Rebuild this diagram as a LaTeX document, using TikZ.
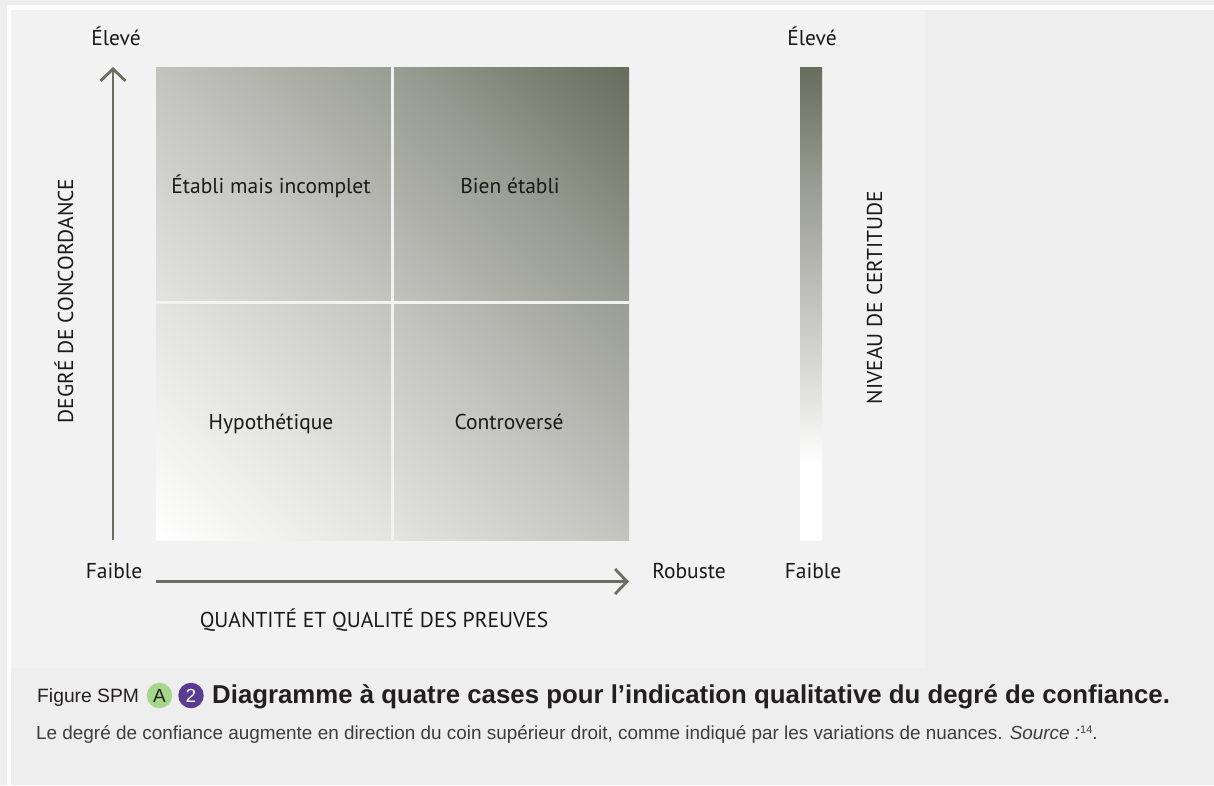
\documentclass[tikz,border=0pt]{standalone}
\usepackage{fontspec}
\setmainfont{PT Sans}
\newfontfamily\capfont{Liberation Sans}
\usetikzlibrary{arrows.meta}
\definecolor{outerbg}{HTML}{EEEEEE}
\definecolor{panelbg}{HTML}{F2F2F2}
\definecolor{axiscol}{HTML}{6B6E61}
\definecolor{g25}{HTML}{E3E4E0}
\definecolor{g50}{HTML}{C2C3BD}
\definecolor{g75}{HTML}{9A9D93}
\definecolor{g100}{HTML}{676C5D}
\definecolor{greenA}{HTML}{A6D58B}
\definecolor{purpleB}{HTML}{5B3B8F}
\definecolor{txt}{HTML}{1A1A1A}
\definecolor{captxt}{HTML}{231F20}
\definecolor{subtxt}{HTML}{3D3D3D}
\pgfdeclarehorizontalshading{matgrad}{100bp}{color(0bp)=(white); color(14.6bp)=(white); color(32.3bp)=(g25); color(50bp)=(g50); color(67.7bp)=(g75); color(85.4bp)=(g100); color(100bp)=(g100)}
\pgfdeclareverticalshading{bargrad}{100bp}{color(0bp)=(white); color(25bp)=(white); color(33bp)=(white); color(40bp)=(g25); color(50bp)=(g50); color(62.5bp)=(g75); color(75bp)=(g100); color(100bp)=(g100)}
\begin{document}
\begin{tikzpicture}[x=1pt,y=-1pt,
  lbl/.style={font=\fontsize{21.5}{25}\selectfont, text=txt, inner sep=0pt, anchor=base},
  axisarrow/.style={draw=axiscol, line width=2.8pt, -{Straight Barb[length=12pt,width=25pt,line width=2.8pt]}},
  badge/.style={circle, inner sep=0pt, minimum size=25.5pt, font=\capfont\fontsize{19}{22}\selectfont},
  divider/.style={draw=panelbg, line width=3pt}
]
\useasboundingbox (0,0) rectangle (1214,785);
% backgrounds
\fill[outerbg] (0,0) rectangle (1214,785);
\fill[white] (7,5) rectangle (1214,785);
\fill[outerbg] (11,10) rectangle (1214,785);
\fill[panelbg] (11,10) rectangle (925,668);
% matrix
\shade[shading=matgrad, shading angle=45] (156,67) rectangle (629,540);
\coordinate (dvt) at (392.5,67);
\coordinate (dvb) at (392.5,540);
\coordinate (dhl) at (156,302.5);
\coordinate (dhr) at (629,302.5);
\draw[divider] (dvt) -- (dvb);
\draw[divider] (dhl) -- (dhr);
% certainty bar
\shade[shading=bargrad] (800,67) rectangle (822,540);
% axes
\coordinate (vbot) at (113,540);
\coordinate (vtop) at (113,67);
\coordinate (hleft) at (156,581.5);
\coordinate (hright) at (629,581.5);
\draw[axisarrow] (vbot) -- (vtop);
\draw[axisarrow] (hleft) -- (hright);
% labels
\node[lbl] (hiL) at (116,45) {Élevé};
\node[lbl] (hiR) at (812,45) {Élevé};
\node[lbl] (loL) at (114,578) {Faible};
\node[lbl] (rob) at (689,578) {Robuste};
\node[lbl] (loR) at (813,578) {Faible};
\node[lbl] (xlab) at (374,627) {QUANTITÉ ET QUALITÉ DES PREUVES};
\node[lbl, rotate=90] (ylab) at (73,301) {DEGRÉ DE CONCORDANCE};
\node[lbl, rotate=90] (clab) at (882,297.5) {NIVEAU DE CERTITUDE};
\node[lbl] (c1) at (271,193) {Établi mais incomplet};
\node[lbl] (c2) at (510,193) {Bien établi};
\node[lbl] (c3) at (271,429) {Hypothétique};
\node[lbl] (c4) at (509,429) {Controversé};
% caption
\node[anchor=base west, inner sep=0pt, text=captxt, font=\capfont\fontsize{19.3}{23}\selectfont] (fig) at (37,702) {Figure SPM};
\node[badge, fill=greenA, text=captxt] (bA) at (159.5,695.5) {A};
\node[badge, fill=purpleB, text=white] (b2) at (191,695.5) {2};
\node[anchor=base west, inner sep=0pt, text=captxt, font=\capfont\bfseries\fontsize{25.8}{30}\selectfont] (title) at (212,703) {Diagramme à quatre cases pour l’indication qualitative du degré de confiance.};
\node[anchor=base west, inner sep=0pt, text=subtxt, font=\capfont\fontsize{18.9}{23}\selectfont] (sub) at (36,739) {Le degré de confiance augmente en direction du coin supérieur droit, comme indiqué par les variations de nuances. \textit{Source :}\raisebox{6pt}{\fontsize{11}{12}\selectfont 14}.};
\end{tikzpicture}
\end{document}
